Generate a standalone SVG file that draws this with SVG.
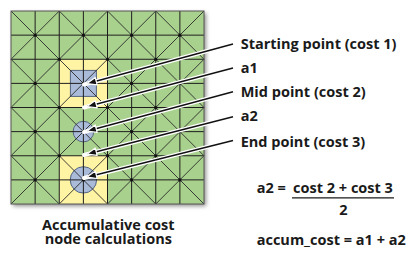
<svg xmlns="http://www.w3.org/2000/svg" width="420" height="256" viewBox="0 0 420 256">
<defs>
<filter id="sh" x="-10%" y="-10%" width="130%" height="130%"><feGaussianBlur stdDeviation="2"/></filter>
<marker id="ah" viewBox="0 0 12 10" refX="10" refY="5" markerWidth="12" markerHeight="10" markerUnits="userSpaceOnUse" orient="auto">
<path d="M1,1.2 L10.5,5 L1,8.8 Z" fill="#111" stroke="#fff" stroke-width="1.2" stroke-linejoin="round"/>
</marker>
</defs>
<style>
.g{stroke:#1e1e1e;stroke-width:1;fill:none}
.d{stroke:#2a2a2a;stroke-width:0.9;fill:none}
.dot{fill:#111}
.t{font-family:"Open Sans","Noto Sans","DejaVu Sans",sans-serif;font-weight:bold;font-size:14.5px;fill:#1a1a1a}
.wl{stroke:#fff;stroke-width:4;fill:none;stroke-linecap:round}
.bl{stroke:#111;stroke-width:1.4;fill:none}
</style>
<rect width="420" height="256" fill="#fff"/>
<g id="grid">
<rect x="13" y="13" width="193" height="193" fill="#8a8a8a" filter="url(#sh)"/>
<rect x="11" y="11" width="193" height="193" fill="#a9d18e"/>
<rect x="59.25" y="59.25" width="48.25" height="48.25" fill="#fff4a4"/>
<rect x="59.25" y="155.75" width="48.25" height="48.25" fill="#fff4a4"/>
<rect x="70.4" y="70.4" width="26" height="26" fill="#a9bbd9" stroke="#55647f" stroke-width="1"/>
<circle cx="83.4" cy="131.6" r="10.3" fill="#a9bbd9" stroke="#55647f" stroke-width="1"/>
<circle cx="83.4" cy="179.9" r="13.2" fill="#a9bbd9" stroke="#55647f" stroke-width="1"/>
<path class="g" d="M35.125,11V204M59.25,11V204M83.375,11V204M107.5,11V204M131.625,11V204M155.75,11V204M179.875,11V204M11,35.125H204M11,59.25H204M11,83.375H204M11,107.5H204M11,131.625H204M11,155.75H204M11,179.875H204"/>
<path class="d" d="M11,11L204,204M59.25,11L204,155.75M107.5,11L204,107.5M155.75,11L204,59.25M11,59.25L155.75,204M11,107.5L107.5,204M11,155.75L59.25,204M59.25,11L11,59.25M107.5,11L11,107.5M155.75,11L11,155.75M204,11L11,204M204,59.25L59.25,204M204,107.5L107.5,204M204,155.75L155.75,204"/>
<rect x="11" y="11" width="193" height="193" fill="none" stroke="#555" stroke-width="1"/>
<g class="dot">
<circle cx="35.125" cy="35.125" r="1.6"/><circle cx="35.125" cy="83.375" r="1.6"/><circle cx="35.125" cy="131.625" r="1.6"/><circle cx="35.125" cy="179.875" r="1.6"/>
<circle cx="83.375" cy="35.125" r="1.6"/><circle cx="83.375" cy="83.375" r="1.6"/><circle cx="83.375" cy="131.625" r="1.6"/><circle cx="83.375" cy="179.875" r="1.6"/>
<circle cx="131.625" cy="35.125" r="1.6"/><circle cx="131.625" cy="83.375" r="1.6"/><circle cx="131.625" cy="131.625" r="1.6"/><circle cx="131.625" cy="179.875" r="1.6"/>
<circle cx="179.875" cy="35.125" r="1.6"/><circle cx="179.875" cy="83.375" r="1.6"/><circle cx="179.875" cy="131.625" r="1.6"/><circle cx="179.875" cy="179.875" r="1.6"/>
<circle cx="59.25" cy="59.25" r="1.6"/><circle cx="59.25" cy="107.5" r="1.6"/><circle cx="59.25" cy="155.75" r="1.6"/>
<circle cx="107.5" cy="59.25" r="1.6"/><circle cx="107.5" cy="107.5" r="1.6"/><circle cx="107.5" cy="155.75" r="1.6"/>
<circle cx="155.75" cy="59.25" r="1.6"/><circle cx="155.75" cy="107.5" r="1.6"/><circle cx="155.75" cy="155.75" r="1.6"/>
</g>
</g>
<g id="connectors">
<path class="wl" d="M233,44L84,84.5M233,68L84,107.5M233,91.7L84,132M233,116.7L84,155M233,140.5L84,178"/>
<path class="bl" marker-end="url(#ah)" d="M233,44L87.5,83.5"/>
<path class="bl" marker-end="url(#ah)" d="M233,68L87.5,106.5"/>
<path class="bl" marker-end="url(#ah)" d="M233,91.7L87.5,131"/>
<path class="bl" marker-end="url(#ah)" d="M233,116.7L87.5,154"/>
<path class="bl" marker-end="url(#ah)" d="M233,140.5L87.5,177"/>
</g>
<g id="labels">
<text class="t" x="240.7" y="49.3">Starting point (cost 1)</text>
<text class="t" x="240.7" y="72.5">a1</text>
<text class="t" x="240.7" y="97.3">Mid point (cost 2)</text>
<text class="t" x="240.7" y="121">a2</text>
<text class="t" x="240.7" y="146.5">End point (cost 3)</text>
</g>
<g id="formula">
<text class="t" x="256.7" y="192.7">a2 =</text>
<text class="t" x="343" y="192.7" text-anchor="middle">cost 2 + cost 3</text>
<line x1="292" y1="197.8" x2="394" y2="197.8" stroke="#1a1a1a" stroke-width="1.3"/>
<text class="t" x="343.3" y="215" text-anchor="middle">2</text>
<text class="t" x="256.7" y="245">accum_cost = a1 + a2</text>
</g>
<g id="caption">
<text class="t" x="108.3" y="230" text-anchor="middle">Accumulative cost</text>
<text class="t" x="108.3" y="244" text-anchor="middle">node calculations</text>
</g>
</svg>
